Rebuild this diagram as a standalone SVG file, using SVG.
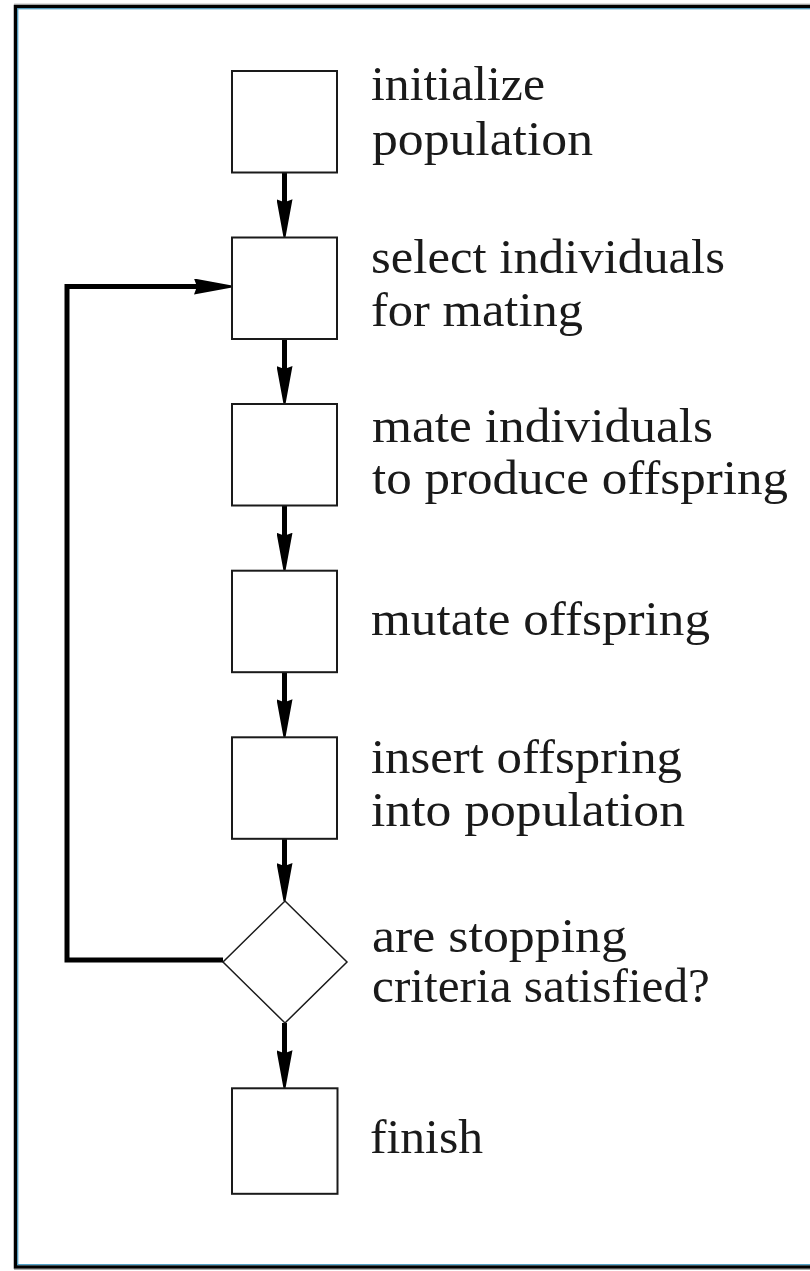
<svg xmlns="http://www.w3.org/2000/svg" width="810" height="1271" viewBox="0 0 810 1271">
<style>
.box{fill:#fff;stroke:#1a1a1a;stroke-width:2}
.dia{fill:#fff;stroke:#1a1a1a;stroke-width:1.5}
.lbl{font-family:"Liberation Serif","DejaVu Serif",serif;font-size:49px;fill:#1a1a1a}
.conn{fill:none;stroke:#000;stroke-width:5;stroke-linejoin:miter;marker-end:url(#arr)}
</style>
<defs>
<marker id="arr" markerUnits="userSpaceOnUse" viewBox="0 0 38 16" markerWidth="38" markerHeight="16" refX="18" refY="8" orient="auto">
<path d="M0,0 L38,7 L38,9 L0,16 L3,8 Z" fill="#000"/>
</marker>
</defs>
<rect width="810" height="1271" fill="#fff"/>
<g id="frame">
<rect x="15.5" y="6.5" width="820" height="1260.5" fill="none" stroke="#000" stroke-width="3.5"/>
<rect x="17.8" y="8.8" width="820" height="1255.9" fill="none" stroke="#2a8ab8" stroke-width="1"/>
<line x1="14" y1="4.2" x2="810" y2="4.2" stroke="#999" stroke-width="1"/>
<line x1="14" y1="1269.3" x2="810" y2="1269.3" stroke="#999" stroke-width="1"/>
</g>
<g id="connectors">
<path class="conn" d="M284.5,172.3 V217.3"/>
<path class="conn" d="M284.5,339 V384"/>
<path class="conn" d="M284.5,505.7 V550.7"/>
<path class="conn" d="M284.5,672.3 V717.3"/>
<path class="conn" d="M284.5,839 V881"/>
<path class="conn" d="M284.5,1023 V1068.3"/>
<path class="conn" d="M223,960 H67 V286.5 H212"/>
</g>
<g id="n1">
<rect class="box" x="232" y="71" width="105" height="101.5"/>
<text class="lbl" x="371" y="100" textLength="174" lengthAdjust="spacingAndGlyphs">initialize</text>
<text class="lbl" x="372" y="155" textLength="221" lengthAdjust="spacingAndGlyphs">population</text>
</g>
<g id="n2">
<rect class="box" x="232" y="237.5" width="105" height="101.5"/>
<text class="lbl" x="371" y="273" textLength="354" lengthAdjust="spacingAndGlyphs">select individuals</text>
<text class="lbl" x="371" y="326" textLength="212" lengthAdjust="spacingAndGlyphs">for mating</text>
</g>
<g id="n3">
<rect class="box" x="232" y="404" width="105" height="101.5"/>
<text class="lbl" x="372" y="442" textLength="341" lengthAdjust="spacingAndGlyphs">mate individuals</text>
<text class="lbl" x="372" y="494" textLength="416" lengthAdjust="spacingAndGlyphs">to produce offspring</text>
</g>
<g id="n4">
<rect class="box" x="232" y="570.7" width="105" height="101.5"/>
<text class="lbl" x="371" y="635" textLength="339" lengthAdjust="spacingAndGlyphs">mutate offspring</text>
</g>
<g id="n5">
<rect class="box" x="232" y="737.3" width="105" height="101.5"/>
<text class="lbl" x="371" y="773" textLength="311" lengthAdjust="spacingAndGlyphs">insert offspring</text>
<text class="lbl" x="371" y="826" textLength="314" lengthAdjust="spacingAndGlyphs">into population</text>
</g>
<g id="n6">
<polygon class="dia" points="285,901 347,962 285,1023 223,962"/>
<text class="lbl" x="372" y="952" textLength="255" lengthAdjust="spacingAndGlyphs">are stopping</text>
<text class="lbl" x="372" y="1002" textLength="338" lengthAdjust="spacingAndGlyphs">criteria satisfied?</text>
</g>
<g id="n7">
<rect class="box" x="232" y="1088.3" width="105.5" height="105.5"/>
<text class="lbl" x="370" y="1153" textLength="113" lengthAdjust="spacingAndGlyphs">finish</text>
</g>
</svg>
